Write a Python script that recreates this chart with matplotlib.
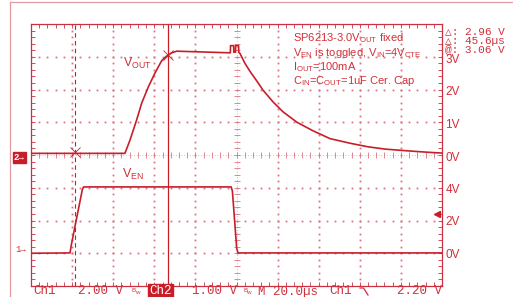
import numpy as np
import matplotlib.pyplot as plt
from matplotlib.lines import Line2D

# scope settings
t_per_div = 20.0          # us / div
ch1_scale, ch1_gnd = 2.0, 1.0   # V/div, ground position in div
ch2_scale, ch2_gnd = 1.0, 4.0
trig_level = 2.20

# Ch2 = VOUT, time in us from left edge of the screen
vout_t = [0, 21.3, 45.7, 48.2, 51.4, 53.9, 57.1, 60.3, 63.6, 66.0, 68.5, 70.9,
          97.0, 97.1, 98.6, 98.7, 99.5, 99.6, 101.0, 101.1, 101.7, 104.1, 106.6,
          110.0, 112.9, 117.8, 122.6, 129.4, 137.2, 145.5, 155.2, 164.0, 172.3,
          180.5, 189.3, 196.6, 200.0]
vout_v = [0.05, 0.05, 0.05, 0.46, 1.07, 1.59, 2.08, 2.50, 2.88, 3.02, 3.12, 3.17,
          3.12, 3.34, 3.34, 3.14, 3.14, 3.34, 3.34, 3.14, 3.10, 2.80, 2.55,
          2.25, 1.98, 1.62, 1.32, 1.00, 0.74, 0.50, 0.36, 0.25, 0.18,
          0.14, 0.10, 0.07, 0.06]

# Ch1 = VEN
ven_t = [0, 19.0, 19.6, 25.0, 25.6, 97.4, 98.0, 100.1, 100.7, 200.0]
ven_v = [0.0, 0.02, 0.5, 3.9, 4.05, 4.05, 3.8, 0.3, 0.02, 0.02]

# cursors
cursor_t = [21.3, 66.9]
cursor_v = [0.10, 3.06]

ch2_labels = [3, 2, 1, 0]
ch1_labels = [4, 2, 0]

TRACE = "#c81e2a"
TXT = "#d2303a"
GRID = "#dc7480"
FRAME = "#cc3040"

plt.rcParams["mathtext.fontset"] = "custom"
plt.rcParams["mathtext.rm"] = "Liberation Sans"
plt.rcParams["mathtext.it"] = "Liberation Sans"
MONO = ["Liberation Mono", "DejaVu Sans Mono", "DejaVu Sans"]
SANS = ["Liberation Sans", "DejaVu Sans"]

W, H = 513, 297


def ftext(x, y, s, **kw):
    # place text in figure pixel coords (y from top)
    return fig.text(x / W, 1 - y / H, s, **kw)


def to_div(v, scale, gnd):
    return gnd + np.asarray(v) / scale


fig = plt.figure(figsize=(W / 100, H / 100), dpi=100)
fig.patch.set_facecolor("white")
ax = fig.add_axes([31 / W, 11 / H, 411 / W, 262 / H])
ax.set_xlim(0, 10 * t_per_div)
ax.set_ylim(0, 8)

# graticule
for i in range(1, 10):
    if i == 5:
        continue
    ys = np.arange(0, 8.01, 0.2)
    ax.plot(np.full_like(ys, i * t_per_div), ys, ls="none", marker="s",
            ms=1.3, mew=0, color=GRID, zorder=1)
for j in range(1, 8):
    if j == 4:
        continue
    xs = np.arange(0, 200.01, t_per_div / 5)
    ax.plot(xs, np.full_like(xs, j), ls="none", marker="s",
            ms=1.3, mew=0, color=GRID, zorder=1)
# center cross with minor ticks
ys = np.arange(0, 8.01, 0.2)
ax.plot(np.full_like(ys, 100), ys, ls="none", marker="_", ms=4, mew=0.6,
        color=GRID, zorder=1)
ax.axvline(100, color=GRID, lw=0.5, ls=(0, (1, 3)), zorder=1)
xs = np.arange(0, 200.01, t_per_div / 5)
ax.plot(xs, np.full_like(xs, 4), ls="none", marker="|", ms=4, mew=0.6,
        color=GRID, zorder=1)
ax.axhline(4, color=GRID, lw=0.5, ls=(0, (1, 3)), zorder=1)

for sp in ax.spines.values():
    sp.set_color(FRAME)
    sp.set_linewidth(0.9)
ax.set_xticks(np.arange(0, 201, t_per_div))
ax.set_xticks(np.arange(0, 201, t_per_div / 5), minor=True)
ax.set_yticks(np.arange(0, 9, 1))
ax.set_yticks(np.arange(0, 8.01, 0.2), minor=True)
ax.tick_params(which="both", direction="in", top=True, right=True, length=3,
               width=0.6, color=FRAME, labelbottom=False, labelleft=False)

# cursors
ax.axvline(cursor_t[0], color=TRACE, lw=0.8, ls=(0, (4, 3)), zorder=2)
ax.axvline(cursor_t[1], color=TRACE, lw=0.9, zorder=2)

# traces
ax.plot(vout_t, to_div(vout_v, ch2_scale, ch2_gnd), color=TRACE, lw=1.2, zorder=3)
ax.plot(ven_t, to_div(ven_v, ch1_scale, ch1_gnd), color=TRACE, lw=1.2, zorder=3)
ax.plot(cursor_t, to_div(cursor_v, ch2_scale, ch2_gnd), ls="none", marker="x",
        ms=7, mew=0.6, color=TRACE, zorder=4)

# trigger level marker
ax.plot([197.5], [to_div(trig_level, ch1_scale, ch1_gnd) + 0.1], ls="none",
        marker="<", ms=4, color=TRACE, clip_on=False, zorder=4)

# right-hand volt labels
for v in ch2_labels:
    ax.text(201.6, to_div(v, ch2_scale, ch2_gnd) - 0.09, f"{v}V", color=TXT,
            fontsize=8.5, family=SANS, ha="left", va="center", clip_on=False)
for v in ch1_labels:
    ax.text(201.6, to_div(v, ch1_scale, ch1_gnd) - 0.06, f"{v}V", color=TXT,
            fontsize=8.5, family=SANS, ha="left", va="center", clip_on=False)

# trace names
ftext(123, 63, r"V$_{\rm OUT}$", color=TXT, fontsize=9, family=SANS, va="center")
ftext(122, 174, r"V$_{\rm EN}$", color=TXT, fontsize=9, family=SANS, va="center")

# note block
notes = [r"SP6213-3.0V$_{\rm OUT}$ fixed",
         r"V$_{\rm EN}$ is toggled, V$_{\rm IN}$=4V$_{\rm CTE}$",
         r"I$_{\rm OUT}$=100mA",
         r"C$_{\rm IN}$=C$_{\rm OUT}$=1uF Cer. Cap"]
for k, s in enumerate(notes):
    ftext(293, 38.5 + k * 14.1, s, color=TXT, fontsize=8, family=SANS, va="center")

# cursor readouts
dv = cursor_v[1] - cursor_v[0]
dt = cursor_t[1] - cursor_t[0]
ftext(445, 31, f"\u25b3: {dv:.2f} V", color=TXT, fontsize=8, family=MONO, va="center")
ftext(445, 40.5, f"\u25b3: {dt:.1f}\u00b5s", color=TXT, fontsize=8, family=MONO, va="center")
ftext(445, 49.5, f"@: {cursor_v[1]:.2f} V", color=TXT, fontsize=8, family=MONO, va="center")

# ground markers
ftext(14, 157.5, "2\u2192", color="white", fontsize=6.5, family=MONO, weight="bold",
      va="center", bbox=dict(boxstyle="square,pad=0.15", fc=TRACE, ec=TRACE))
ftext(15, 249, "1\u2192", color=TXT, fontsize=6.5, family=MONO, va="center")

# bottom status line
yb = 291.5
ftext(33, yb, "Ch1", color=TXT, fontsize=9, family=MONO, va="center")
ftext(78, yb, f"{ch1_scale:.2f} V", color=TXT, fontsize=9, family=MONO, va="center")
ftext(132, yb - 1.5, "B", color=TXT, fontsize=4.5, family=SANS, va="center")
ftext(135, yb + 0.5, "w", color=TXT, fontsize=4.5, family=SANS, va="center")
ftext(149, yb, "Ch2", color="white", fontsize=9, family=MONO, va="center",
      bbox=dict(boxstyle="square,pad=0.1", fc=TRACE, ec=TRACE))
ftext(192, yb, f"{ch2_scale:.2f} V", color=TXT, fontsize=9, family=MONO, va="center")
ftext(243, yb - 1.5, "B", color=TXT, fontsize=4.5, family=SANS, va="center")
ftext(246, yb + 0.5, "w", color=TXT, fontsize=4.5, family=SANS, va="center")
ftext(258, yb, f"M {t_per_div:.1f}\u00b5s", color=TXT, fontsize=9, family=MONO, va="center")
ftext(329, yb, "Ch1", color=TXT, fontsize=9, family=MONO, va="center")
fig.add_artist(Line2D(np.array([360, 363.5, 368]) / W,
                      1 - np.array([288, 288, 295]) / H,
                      transform=fig.transFigure, color=TXT, lw=0.9))
ftext(397, yb, f"{trig_level:.2f} V", color=TXT, fontsize=9, family=MONO, va="center")

# outer screen frame
fig.add_artist(Line2D([10 / W, 10 / W], [0, 1 - 2 / H], transform=fig.transFigure,
                      color="#e59aa0", lw=0.9))
fig.add_artist(Line2D([10 / W, 1], [1 - 2 / H, 1 - 2 / H], transform=fig.transFigure,
                      color="#e59aa0", lw=0.9))

fig.savefig("out.png", dpi=100, facecolor="white")
